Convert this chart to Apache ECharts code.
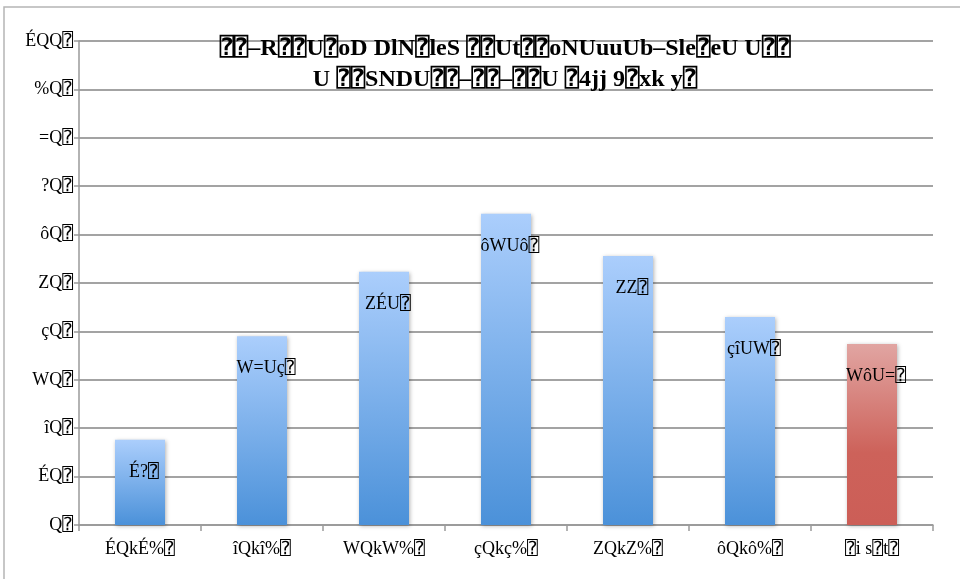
<!DOCTYPE html>
<html>
<head>
<meta charset="utf-8">
<script src="https://cdn.jsdelivr.net/npm/echarts@6/dist/echarts.min.js"></script>
<style>
html,body{margin:0;padding:0;background:#fff;}
#chart{width:960px;height:579px;}
</style>
</head>
<body>
<div id="chart"></div>
<script>
// Data (text kept as it appears)
const titleLines = [
  "⍰⍰–R⍰⍰U⍰oD DlN⍰leS ⍰⍰Ut⍰⍰oNUuuUb–Sle⍰eU U⍰⍰",
  "U ⍰⍰SNDU⍰⍰–⍰⍰–⍰⍰U ⍰4jj 9⍰xk y⍰"
];
const categories = ["ÉQkÉ%⍰", "îQkî%⍰", "WQkW%⍰", "çQkç%⍰", "ZQkZ%⍰", "ôQkô%⍰", "⍰i s⍰t⍰"];
const values = [17.6, 39.0, 52.3, 64.3, 55.6, 43.0, 37.4];
const valueLabels = ["É?⍰", "W=Uç⍰", "ZÉU⍰", "ôWUô⍰", "ZZ⍰", "çîUW⍰", "WôU=⍰"];
const yTickLabels = ["Q⍰", "ÉQ⍰", "îQ⍰", "WQ⍰", "çQ⍰", "ZQ⍰", "ôQ⍰", "?Q⍰", "=Q⍰", "%Q⍰", "ÉQQ⍰"];
const highlightIndex = 6;

const font = '"Liberation Serif", "DejaVu Serif", "DejaVu Sans Mono", serif';
const blueGrad = new echarts.graphic.LinearGradient(0, 0, 0, 1, [
  {offset: 0, color: '#abcefc'}, {offset: 1, color: '#4b91d9'}
]);
const redGrad = new echarts.graphic.LinearGradient(0, 0, 0, 1, [
  {offset: 0, color: '#e1a5a2'}, {offset: 0.6, color: '#cd625a'}, {offset: 1, color: '#cc5e57'}
]);

const chart = echarts.init(document.getElementById('chart'), null, {renderer: 'canvas'});
chart.setOption({
  animation: false,
  backgroundColor: '#fff',
  title: {
    text: titleLines.join('\n'),
    left: 500,
    textAlign: 'center',
    top: 28,
    textStyle: {fontFamily: font, fontWeight: 'bold', fontSize: 24, lineHeight: 31, color: '#000'}
  },
  graphic: [{
    type: 'rect', shape: {x: 4, y: 7, width: 980, height: 600},
    style: {fill: 'none', stroke: '#b5b5b5', lineWidth: 1.5}, silent: true, z: -1
  }],
  grid: {left: 79, right: 27, top: 41, bottom: 54},
  xAxis: {
    type: 'category',
    data: categories,
    axisLine: {lineStyle: {color: '#9a9a9a', width: 1.5}},
    axisTick: {show: true, alignWithLabel: false, length: 6, lineStyle: {color: '#9a9a9a', width: 1.5}},
    axisLabel: {fontFamily: font, fontSize: 18, color: '#000', margin: 15}
  },
  yAxis: {
    type: 'value', min: 0, max: 100, interval: 10,
    axisLine: {show: true, lineStyle: {color: '#9a9a9a', width: 1.5}},
    axisTick: {show: true, length: 5, lineStyle: {color: '#9a9a9a', width: 1.5}},
    splitLine: {lineStyle: {color: '#a3a3a3', width: 2}},
    axisLabel: {fontFamily: font, fontSize: 18, color: '#000', margin: 6,
      formatter: v => yTickLabels[Math.round(v / 10)]}
  },
  series: [{
    type: 'bar',
    barWidth: 50,
    data: values.map((v, i) => ({
      value: v,
      itemStyle: {color: i === highlightIndex ? redGrad : blueGrad}
    })),
    itemStyle: {shadowBlur: 4, shadowColor: 'rgba(0,0,0,0.3)', shadowOffsetX: 1, shadowOffsetY: 1},
    label: {
      show: true, position: 'insideTop', distance: 23, offset: [4, 0],
      fontFamily: font, fontSize: 18, color: '#000',
      formatter: p => valueLabels[p.dataIndex]
    }
  }]
});
</script>
</body>
</html>
